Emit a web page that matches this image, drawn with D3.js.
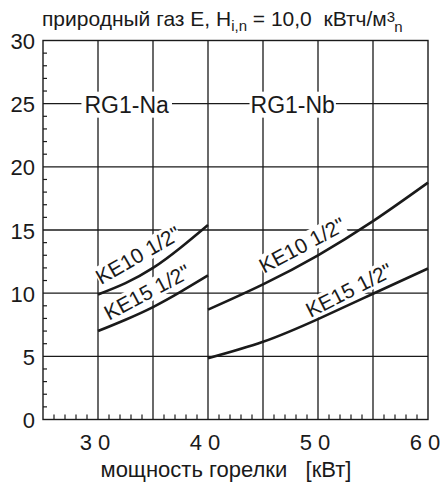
<!DOCTYPE html>
<html><head><meta charset="utf-8">
<script src="https://cdn.jsdelivr.net/npm/d3@7"></script>
<style>
html,body{margin:0;padding:0;background:#fff;}
svg{display:block;font-family:"Liberation Sans",Arial,sans-serif;}
</style></head>
<body>
<svg id="c" width="441" height="484"></svg>
<script>
// ---- data ----
const xTickValues = [20, 30, 40, 50, 60];
const xTickLabels = ["2 0", "3 0", "4 0", "5 0", "6 0"];
const yTickValues = [0, 5, 10, 15, 20, 25, 30];
const panelNames = ["RG1-Na", "RG1-Nb"];
const seriesNames = ["KE10 1/2\"", "KE15 1/2\""];
// RG1-Na
const naKE10 = [[30, 9.9], [32.5, 10.8], [35, 12.0], [37.5, 13.6], [40, 15.4]];
const naKE15 = [[30, 7.0], [32.5, 7.9], [35, 8.9], [37.5, 10.1], [40, 11.4]];
// RG1-Nb
const nbKE10 = [[40, 8.7], [45, 10.7], [50, 13.0], [55, 15.7], [60, 18.75]];
const nbKE15 = [[40, 4.85], [45, 6.15], [50, 7.95], [55, 9.95], [60, 11.95]];

// ---- layout ----
const svg = d3.select("#c");
const ink = "#1a1a1a";
const x = d3.scaleLinear().domain([25, 60]).range([43, 428]);
const y = d3.scaleLinear().domain([0, 30]).range([419.5, 40.5]);

// grid
const g = svg.append("g");
g.selectAll("line.v").data(d3.range(30, 60, 5)).join("line")
  .attr("x1", d => x(d)).attr("x2", d => x(d))
  .attr("y1", y(0)).attr("y2", y(30))
  .attr("stroke", ink).attr("stroke-width", 1.3);
g.selectAll("line.h").data(d3.range(5, 30, 5)).join("line")
  .attr("y1", d => y(d)).attr("y2", d => y(d))
  .attr("x1", x(25)).attr("x2", x(60))
  .attr("stroke", ink).attr("stroke-width", 1.3);

// minor ticks
g.selectAll("line.mx").data(d3.range(26, 60).filter(d => d % 5 !== 0)).join("line")
  .attr("x1", d => x(d)).attr("x2", d => x(d))
  .attr("y1", y(0)).attr("y2", y(0) - 5)
  .attr("stroke", ink).attr("stroke-width", 1.2);
g.selectAll("line.my").data(d3.range(1, 30).filter(d => d % 5 !== 0)).join("line")
  .attr("y1", d => y(d)).attr("y2", d => y(d))
  .attr("x1", x(25)).attr("x2", x(25) + 4)
  .attr("stroke", ink).attr("stroke-width", 1.2);

// labels with white boxes (drawn over grid, under curves)
const labelLayer = svg.append("g");
function boxedLabel(px, py, angle, text, size, pad) {
  const lg = labelLayer.append("g").attr("transform", `translate(${px},${py}) rotate(${angle})`);
  const r = lg.append("rect").attr("fill", "#fff");
  const t = lg.append("text").attr("text-anchor", "middle").attr("dominant-baseline", "central")
    .attr("font-size", size).attr("fill", ink).text(text);
  const b = t.node().getBBox();
  r.attr("x", b.x - pad[0]).attr("y", b.y - pad[1])
   .attr("width", b.width + 2 * pad[0]).attr("height", b.height + 2 * pad[1]);
}
boxedLabel(x(32.6), y(25) + 1, 0, panelNames[0], 23, [3, 0]);
boxedLabel(x(47.7), y(25) + 1, 0, panelNames[1], 23, [1, 0]);
boxedLabel(138, 255, -30, seriesNames[0], 21, [0, -1]);
boxedLabel(147, 292, -28, seriesNames[1], 21, [0, -1]);
boxedLabel(302, 245, -28, seriesNames[0], 21, [0, -1]);
boxedLabel(349, 290, -27, seriesNames[1], 21, [0, -1]);

// frame
svg.append("rect").attr("x", x(25)).attr("y", y(30))
  .attr("width", x(60) - x(25)).attr("height", y(0) - y(30))
  .attr("fill", "none").attr("stroke", ink).attr("stroke-width", 1.4);

// curves
const line = d3.line().x(d => x(d[0])).y(d => y(d[1])).curve(d3.curveNatural);
[naKE10, naKE15, nbKE10, nbKE15].forEach(s => {
  svg.append("path").attr("d", line(s)).attr("fill", "none")
    .attr("stroke", ink).attr("stroke-width", 2.6);
});

// y tick labels
svg.selectAll("text.yl").data(yTickValues).join("text")
  .attr("x", 35).attr("y", d => y(d) + 1).attr("text-anchor", "end")
  .attr("dominant-baseline", "central").attr("font-size", 22).attr("fill", ink)
  .text(d => d);
// x tick labels
svg.selectAll("text.xl").data(xTickValues).join("text")
  .attr("x", d => x(d) - 3).attr("y", 450).attr("text-anchor", "middle")
  .attr("font-size", 22).attr("fill", ink)
  .text((d, i) => xTickLabels[i]);

// axis title
svg.append("text").attr("x", 226).attr("y", 477).attr("text-anchor", "middle")
  .attr("font-size", 22).attr("fill", ink).attr("xml:space", "preserve")
  .text("мощность горелки   [кВт]");

// chart title
const tt = svg.append("text").attr("x", 42).attr("y", 26).attr("font-size", 21).attr("fill", ink)
  .attr("xml:space", "preserve");
tt.append("tspan").text("природный газ E, H");
tt.append("tspan").attr("font-size", 15).attr("dy", 5).text("i,n");
tt.append("tspan").attr("dy", -5).text(" = 10,0  кВтч/м");
tt.append("tspan").attr("font-size", 15).attr("dy", -4).text("3");
tt.append("tspan").attr("font-size", 15).attr("dx", -1).attr("dy", 10).text("n");
</script>
</body></html>
